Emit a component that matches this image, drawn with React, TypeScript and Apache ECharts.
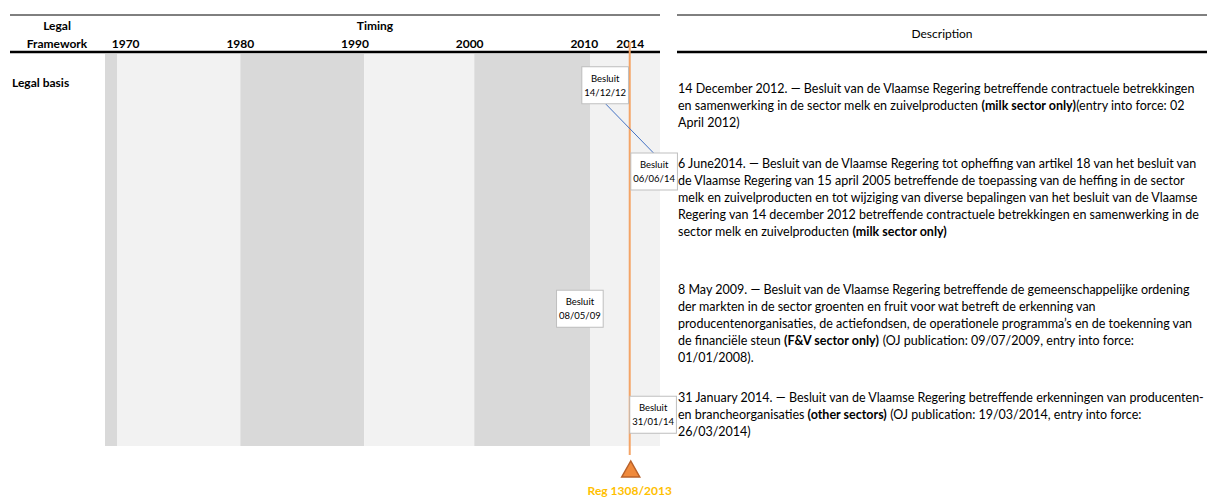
import React, { useEffect, useRef } from "react";
import * as echarts from "echarts";

// ---- data ----
const tickYears = [1970, 1980, 1990, 2000, 2010, 2014];
const bandEdges = [1968.2, 1969.25, 1980, 1990.8, 2000.4, 2010.5, 2016.6];
const bandShades = ["dark", "light", "dark", "light", "dark", "light"];

const decreeLabels = ["Besluit\n14/12/12", "Besluit\n06/06/14", "Besluit\n08/05/09", "Besluit\n31/01/14"];
const decreeDates = [2012.95, 2014.43, 2009.35, 2014.08];
const decreeRows = [8, 30, 65, 92];

const regulationYear = 2013.96;
const regulationLabel = "Reg 1308/2013";

const rowLabel = "Legal basis";

const descriptions: string[][] = [
  [
    "14 December 2012. — Besluit van de Vlaamse Regering betreffende contractuele betrekkingen",
    "en samenwerking in de sector melk en zuivelproducten {b|(milk sector only)}(entry into force: 02",
    "April 2012)",
  ],
  [
    "6 June2014. — Besluit van de Vlaamse Regering tot opheffing van artikel 18 van het besluit van",
    "de Vlaamse Regering van 15 april 2005 betreffende de toepassing van de heffing in de sector",
    "melk en zuivelproducten en tot wijziging van diverse bepalingen van het besluit van de Vlaamse",
    "Regering van 14 december 2012 betreffende contractuele betrekkingen en samenwerking in de",
    "sector melk en zuivelproducten {b|(milk sector only)}",
  ],
  [
    "8 May 2009. — Besluit van de Vlaamse Regering betreffende de gemeenschappelijke ordening",
    "der markten in de sector groenten en fruit voor wat betreft de erkenning van",
    "producentenorganisaties, de actiefondsen, de operationele programma’s en de toekenning van",
    "de financiële steun {b|(F&V sector only)} (OJ publication: 09/07/2009, entry into force:",
    "01/01/2008).",
  ],
  [
    "31 January 2014. — Besluit van de Vlaamse Regering betreffende erkenningen van producenten-",
    "en brancheorganisaties {b|(other sectors)} (OJ publication: 19/03/2014, entry into force:",
    "26/03/2014)",
  ],
];

// ---- layout / style ----
const FONT = "Lato";
const W = 1207;
const H = 498;
const GRID = { left: 105, right: W - 660, top: 54, bottom: H - 446 };
const boxOffsets = [[-13, 0], [19, 0], [3, 0], [22, 0]];
const descStartY = [88, 163, 289, 397];
const descLineH = 17;
const descFontSize = 12.5;
const shadeColor: Record<string, string> = { dark: "#d9d9d9", light: "#f2f2f2" };

export default function App() {
  const ref = useRef<HTMLDivElement>(null);

  useEffect(() => {
    document.body.style.margin = "0";
    if (!ref.current) return;
    const chart = echarts.init(ref.current, undefined, { renderer: "svg" });

    const bands = bandShades.map((s, i) => [
      { xAxis: bandEdges[i], itemStyle: { color: shadeColor[s] } },
      { xAxis: bandEdges[i + 1] },
    ]);

    const boxData = decreeLabels.map((name, i) => ({
      name,
      value: [decreeDates[i], decreeRows[i]],
      label: { offset: boxOffsets[i] },
    }));

    const option: any = {
      animation: false,
      backgroundColor: "#ffffff",
      grid: { ...GRID, containLabel: false },
      xAxis: {
        type: "value",
        position: "top",
        min: bandEdges[0],
        max: bandEdges[bandEdges.length - 1],
        axisLine: { show: false },
        axisTick: { show: false },
        splitLine: { show: false },
        axisLabel: {
          customValues: tickYears,
          margin: 5,
          fontFamily: FONT,
          fontWeight: "bold",
          fontSize: 12,
          color: "#000",
          formatter: (v: number) => String(v),
        },
      },
      yAxis: {
        type: "value",
        min: 0,
        max: 100,
        inverse: true,
        show: false,
      },
      series: [
        {
          type: "scatter",
          data: boxData,
          symbolSize: 2,
          itemStyle: { color: "rgba(0,0,0,0)" },
          z: 5,
          label: {
            show: true,
            opacity: 1,
            position: "inside",
            formatter: (p: any) => p.name,
            fontFamily: FONT,
            fontSize: 9.5,
            lineHeight: 14,
            color: "#000",
            align: "center",
            verticalAlign: "middle",
            backgroundColor: "#ffffff",
            borderColor: "#bfbfbf",
            borderWidth: 1,
            padding: [4, 2, 4, 2],
          },
          markArea: { silent: true, data: bands },
        },
      ],
    };
    chart.setOption(option);

    const px = (x: number, y: number) => chart.convertToPixel({ gridIndex: 0 }, [x, y]) as number[];

    const regX = px(regulationYear, 0)[0];
    const b1 = px(decreeDates[0], decreeRows[0]);
    const b2 = px(decreeDates[1], decreeRows[1]);
    const halfBox = 18;

    const graphics: any[] = [];
    // table rules
    graphics.push(
      { type: "line", shape: { x1: 10, y1: 15, x2: 660, y2: 15 }, style: { stroke: "#000", lineWidth: 1 } },
      { type: "line", shape: { x1: 10, y1: 52, x2: 660, y2: 52 }, style: { stroke: "#000", lineWidth: 2.5 } },
      { type: "line", shape: { x1: 677, y1: 15, x2: W, y2: 15 }, style: { stroke: "#000", lineWidth: 1 } },
      { type: "line", shape: { x1: 677, y1: 52, x2: W, y2: 52 }, style: { stroke: "#000", lineWidth: 2.5 } }
    );
    // headers
    const hdr = (text: string, x: number, y: number, bold = true, align = "center") => ({
      type: "text",
      x,
      y,
      style: {
        text,
        fontFamily: FONT,
        fontSize: 12,
        fontWeight: bold ? "bold" : "normal",
        fill: "#000",
        align,
        verticalAlign: "middle",
      },
    });
    graphics.push(
      hdr("Legal", 57, 25),
      hdr("Framework", 57, 43),
      hdr("Timing", 375, 25),
      hdr("Description", 942, 33, false),
      hdr(rowLabel, 12, 82, true, "left")
    );
    // connector between decree boxes
    graphics.push({
      type: "line",
      z: 4,
      shape: {
        x1: b1[0] + boxOffsets[0][0],
        y1: b1[1] + halfBox,
        x2: b2[0] + boxOffsets[1][0],
        y2: b2[1] - halfBox,
      },
      style: { stroke: "#4472c4", lineWidth: 1 },
    });
    // regulation line + marker
    graphics.push(
      {
        type: "line",
        z: 3,
        shape: { x1: regX, y1: 42, x2: regX, y2: 455 },
        style: { stroke: "#f4a466", lineWidth: 2 },
      },
      {
        type: "polygon",
        shape: { points: [[regX + 1, 461], [regX - 8, 477], [regX + 10, 477]] },
        style: { fill: "#f08a3c", stroke: "#b9612a", lineWidth: 1.5 },
      },
      {
        type: "text",
        x: regX,
        y: 490,
        style: {
          text: regulationLabel,
          fontFamily: FONT,
          fontSize: 12,
          fontWeight: "bold",
          fill: "#ffc000",
          align: "center",
          verticalAlign: "middle",
        },
      }
    );
    // descriptions
    descriptions.forEach((lines, bi) => {
      lines.forEach((line, li) => {
        graphics.push({
          type: "text",
          x: 678,
          y: descStartY[bi] + li * descLineH,
          style: {
            text: line,
            fontFamily: FONT,
            fontSize: descFontSize,
            fill: "#000",
            align: "left",
            verticalAlign: "middle",
            rich: {
              b: { fontFamily: FONT, fontSize: descFontSize, fontWeight: "bold", fill: "#000" },
            },
          },
        });
      });
    });

    chart.setOption({ graphic: graphics });

    return () => chart.dispose();
  }, []);

  return <div ref={ref} style={{ width: W, height: H }} />;
}
